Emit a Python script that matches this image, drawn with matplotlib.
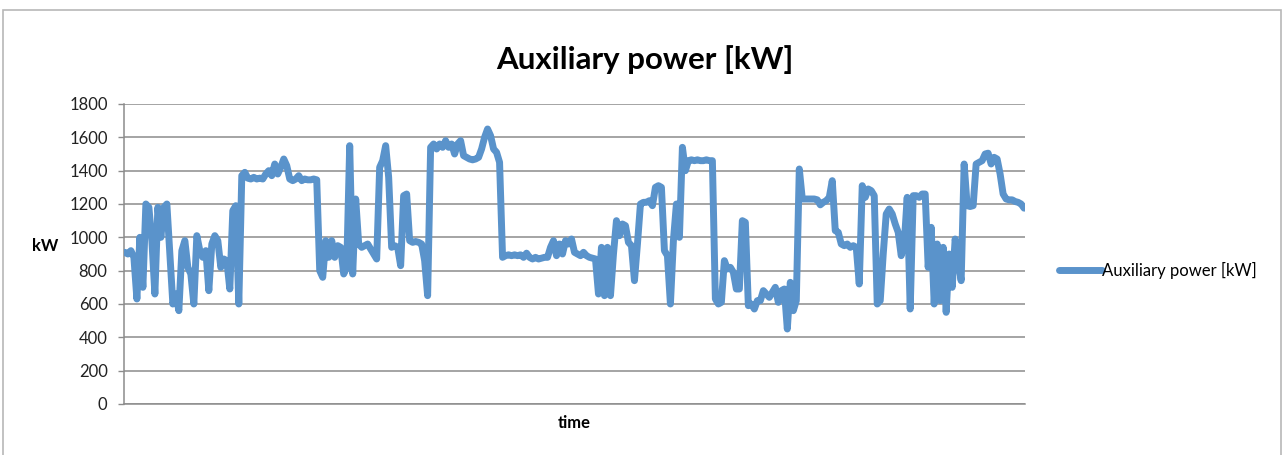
import matplotlib
matplotlib.use("Agg")
import matplotlib.pyplot as plt
from matplotlib.patches import Rectangle
import numpy as np

plt.rcParams['font.family'] = ['Lato', 'DejaVu Sans']

title = "Auxiliary power [kW]"
series_name = "Auxiliary power [kW]"
x_label = "time"
y_label = "kW"
y_ticks = [0, 200, 400, 600, 800, 1000, 1200, 1400, 1600, 1800]

power_kw = [
    910, 900, 920, 880, 630, 1000, 700, 1200, 1180, 980,
    660, 1180, 1000, 1180, 1200, 900, 600, 660, 560, 920,
    980, 820, 780, 600, 1010, 920, 880, 920, 680, 960,
    1010, 980, 820, 870, 860, 690, 1160, 1190, 600, 1370,
    1390, 1355, 1350, 1360, 1350, 1355, 1350, 1380, 1400, 1370,
    1440, 1380, 1420, 1470, 1430, 1350, 1340, 1350, 1370, 1340,
    1350, 1345, 1345, 1350, 1345, 800, 760, 980, 880, 980,
    880, 950, 940, 780, 820, 1550, 780, 1230, 960, 940,
    950, 960, 930, 900, 870, 1420, 1460, 1550, 1360, 940,
    950, 940, 830, 1250, 1260, 980, 970, 975, 970, 960,
    860, 650, 1540, 1560, 1530, 1560, 1540, 1580, 1540, 1560,
    1500, 1560, 1580, 1490, 1480, 1470, 1465, 1470, 1480, 1530,
    1600, 1650, 1610, 1530, 1510, 1450, 880, 890, 895, 890,
    895, 890, 895, 880, 905, 880, 870, 880, 870, 875,
    880, 880, 940, 980, 890, 960, 900, 980, 960, 990,
    910, 900, 890, 910, 890, 880, 875, 870, 660, 940,
    650, 940, 650, 900, 1100, 1010, 1080, 1070, 970, 950,
    740, 960, 1200, 1210, 1210, 1220, 1190, 1300, 1310, 1300,
    920, 890, 600, 980, 1200, 1000, 1540, 1400, 1460, 1465,
    1460, 1465, 1460, 1460, 1465, 1460, 1460, 630, 600, 610,
    860, 810, 820, 790, 690, 690, 1100, 1090, 590, 600,
    570, 620, 620, 680, 660, 640, 670, 700, 610, 680,
    690, 450, 730, 560, 620, 1410, 1230, 1230, 1230, 1230,
    1230, 1225, 1195, 1210, 1220, 1240, 1340, 1040, 1030, 960,
    950, 960, 940, 950, 940, 720, 1310, 1240, 1290, 1280,
    1250, 600, 620, 900, 1140, 1170, 1140, 1080, 1030, 890,
    960, 1240, 570, 1250, 1250, 1240, 1260, 1260, 820, 1060,
    600, 960, 620, 940, 550, 900, 700, 990, 860, 740,
    1440, 1190, 1185, 1190, 1440, 1450, 1460, 1500, 1505, 1440,
    1480, 1470, 1380, 1260, 1230, 1225, 1225, 1215, 1210, 1200,
    1175,
]

fig = plt.figure(figsize=(12.85, 4.55), dpi=100)
fig.patch.set_facecolor("white")

# outer chart border
fig.patches.append(Rectangle((3 / 1285, -0.02), 1278 / 1285, 1.02 - 9.5 / 455,
                             transform=fig.transFigure, fill=False,
                             edgecolor="#b8b8b8", linewidth=1.2))

ax = fig.add_axes([124 / 1285, 51 / 455, 901 / 1285, 300 / 455])
t = np.arange(len(power_kw))
line_color = "#5A93CB"
ax.plot(t, power_kw, color=line_color, linewidth=5.0, solid_joinstyle="round",
        solid_capstyle="round", label=series_name, zorder=3)

ax.set_xlim(-0.3, len(power_kw) - 0.7)
ax.set_ylim(0, 1800)
ax.set_yticks(y_ticks)
ax.set_yticklabels([str(v) for v in y_ticks], fontsize=12, color="#222222")
ax.set_xticks([])
ax.yaxis.grid(True, color="#8c8c8c", linewidth=1.1)
ax.set_axisbelow(True)
ax.tick_params(axis="y", length=4.3, width=1, color="#8c8c8c", pad=7.5)
for s in ["top", "right"]:
    ax.spines[s].set_visible(False)
for s in ["left", "bottom"]:
    ax.spines[s].set_color("#8c8c8c")
    ax.spines[s].set_linewidth(1.1)

ax.set_xlabel(x_label, fontsize=12, fontweight="bold", labelpad=8)
ax.set_ylabel(y_label, fontsize=12, fontweight="bold", rotation=0,
              labelpad=0)
ax.yaxis.set_label_coords(-0.087, 0.5)

fig.text(645 / 1285, 1 - 60 / 455, title, fontsize=22.5, fontweight="bold",
         ha="center", va="center")

leg = ax.legend(loc="center left", bbox_to_anchor=(1052 / 1285, 1 - 270 / 455),
                bbox_transform=fig.transFigure, frameon=False, fontsize=12,
                handlelength=2.6, handletextpad=0.0, borderaxespad=0)

fig.savefig("out.png", dpi=100)
